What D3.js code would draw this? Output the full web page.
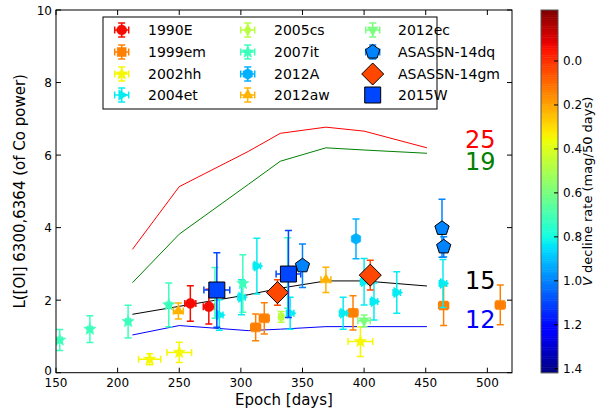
<!DOCTYPE html>
<html><head><meta charset="utf-8">
<script src="https://cdn.jsdelivr.net/npm/d3@7"></script>
<style>body{margin:0;background:#fff}svg{display:block;font-family:"DejaVu Sans",sans-serif}</style>
</head><body><svg id="c" width="606" height="414"></svg>
<script>
// ---- model curves ----
const modelEpochs = [212, 250, 306, 332, 369, 400, 451];
const model25 = [3.40, 5.13, 6.10, 6.60, 6.77, 6.66, 6.20];
const model19 = [2.48, 3.82, 5.19, 5.83, 6.20, 6.14, 6.05];
const model15 = [1.61, 1.83, 2.15, 2.33, 2.53, 2.53, 2.39];
const model12 = [1.04, 1.30, 1.16, 1.20, 1.27, 1.27, 1.27];
const modelLabels = ["25", "19", "15", "12"];
const modelLabelY = [6.45, 5.84, 2.55, 1.47];

// ---- observations: [epoch, L, yerr, xerr] ----
const sn1990E = [[259, 1.91, 0.49, 4.5], [274, 1.82, 0.48, 4.5]];
const sn1999em = [[312, 1.25, 0.37, 4], [319, 1.50, 0.43, 4], [391, 1.65, 0.47, 4], [464.5, 1.85, 0.55, 4], [510.5, 1.87, 0.55, 4]];
const sn2002hh = [[226, 0.37, 0.15, 9], [250, 0.56, 0.28, 10], [397, 0.86, 0.41, 10]];
const sn2004et = [[282.5, 1.59, 0.42, 3], [300.5, 2.08, 0.48, 3], [313, 2.94, 0.77, 3], [340, 1.64, 0.44, 3], [383, 1.64, 0.44, 3], [400, 2.51, 0.64, 3], [408, 1.96, 0.51, 3], [426.5, 2.21, 0.57, 3], [464, 2.46, 0.66, 3]];
const sn2005cs = [[332.7, 1.54, 0.15, 2]];
const sn2007it = [[153, 0.90, 0.29, 2], [177.5, 1.20, 0.37, 2], [208.5, 1.41, 0.45, 2], [241.5, 1.87, 0.60, 2], [279, 2.20, 0.70, 2], [301.6, 2.46, 0.79, 2], [338, 2.75, 0.97, 2]];
const sn2012A = [[393.4, 3.69, 0.55, 1]];
const sn2012aw = [[249.3, 1.70, 0.22, 4], [369, 2.56, 0.35, 4]];
const sn2012ec = [[400, 1.43, 0.16, 5]];
const asassn14dq = [[350, 2.95, 0.60, 3], [463.2, 3.98, 0.80, 3], [464.6, 3.47, 0.28, 3]];
const asassn14gm = [[329.7, 2.21, 0.35, 0], [405, 2.69, 0.41, 0]];
const sn2015W = [[280.5, 2.28, 1.03, 10.5], [338.6, 2.72, 1.20, 10]];

const snNames = ["1990E","1999em","2002hh","2004et","2005cs","2007it","2012A","2012aw","2012ec","ASASSN-14dq","ASASSN-14gm","2015W"];
const snDecline = [-0.065, 0.14, 0.35, 0.83, 0.47, 0.72, 0.925, 0.23, 0.595, 1.0, 0.04, 1.10];
const snMarkers = ["circle","square","star","triright","thindiamond","star","hexagon","triup","tridown","pentagon","diamond","bigsquare"];
const snData = [sn1990E, sn1999em, sn2002hh, sn2004et, sn2005cs, sn2007it, sn2012A, sn2012aw, sn2012ec, asassn14dq, asassn14gm, sn2015W];

const xTicks = [150, 200, 250, 300, 350, 400, 450, 500];
const yTicks = [0, 2, 4, 6, 8, 10];
const cbTicks = [0.0, 0.2, 0.4, 0.6, 0.8, 1.0, 1.2, 1.4];

// ---- jet colormap (matplotlib segments) ----
function seg(pts, t){ for(let i=1;i<pts.length;i++){ if(t<=pts[i][0]){ const a=pts[i-1],b=pts[i]; return a[1]+(b[1]-a[1])*(t-a[0])/(b[0]-a[0]); } } return pts[pts.length-1][1]; }
const R=[[0,0],[0.35,0],[0.66,1],[0.89,1],[1,0.5]], G=[[0,0],[0.125,0],[0.375,1],[0.64,1],[0.91,0],[1,0]], B=[[0,0.5],[0.11,1],[0.34,1],[0.65,0],[1,0]];
function jet(t){ t=Math.max(0,Math.min(1,t)); return d3.rgb(255*seg(R,t),255*seg(G,t),255*seg(B,t)).formatHex(); }
const cbMin = -0.232, cbMax = 1.418;
const colorOf = v => jet(1 - (v - cbMin)/(cbMax - cbMin));

const svg = d3.select("#c");
const L=56, Rg=512, T=10, Bt=372.7;
const x = d3.scaleLinear().domain([150,520]).range([L,Rg]);
const y = d3.scaleLinear().domain([0,10]).range([Bt,T]);

svg.append("clipPath").attr("id","pc").append("rect").attr("x",L).attr("y",T).attr("width",Rg-L).attr("height",Bt-T);
const plot = svg.append("g").attr("clip-path","url(#pc)");

// model lines
const modelColors = ["#ff0000","#008000","#000000","#0000ff"];
[model25, model19, model15, model12].forEach((m,i)=>{
  const line = d3.line().x((d,j)=>x(modelEpochs[j])).y(d=>y(d));
  plot.append("path").attr("d", line(m)).attr("fill","none").attr("stroke",modelColors[i]).attr("stroke-width",1);
});
modelLabels.forEach((t,i)=>{
  svg.append("text").attr("x",465).attr("y",y(modelLabelY[i])+9).attr("font-size",24).attr("fill",modelColors[i]).text(t);
});

// marker paths
function poly(n, r, rot){ const p=[]; for(let i=0;i<n;i++){ const a=(rot+i*360/n)*Math.PI/180; p.push([r*Math.sin(a), -r*Math.cos(a)]); } return "M"+p.map(q=>q.join(",")).join("L")+"Z"; }
function star(ro, ri){ const p=[]; for(let i=0;i<10;i++){ const r=i%2?ri:ro; const a=i*36*Math.PI/180; p.push([r*Math.sin(a), -r*Math.cos(a)]); } return "M"+p.map(q=>q.join(",")).join("L")+"Z"; }
function markerPath(m){
  switch(m){
    case "circle": return d3.symbol(d3.symbolCircle, 80)();
    case "square": return "M-4.5,-4.5h9v9h-9Z";
    case "star": return star(6.5, 2.8);
    case "triright": return poly(3, 6, 90);
    case "triup": return poly(3, 6, 0);
    case "tridown": return poly(3, 6, 180);
    case "thindiamond": return "M0,-6L3.5,0L0,6L-3.5,0Z";
    case "hexagon": return poly(6, 5.5, 0);
    case "pentagon": return poly(5, 7.5, 0);
    case "diamond": return "M0,-11L11,0L0,11L-11,0Z";
    case "bigsquare": return "M-8,-8h16v16h-16Z";
  }
}
const bigMarkers = {pentagon:1, diamond:1, bigsquare:1};

function drawPoint(g, px, py, col, m, xe, ye){
  const cap=3.5;
  if(ye!==null){
    const e = g.append("g").attr("stroke",col).attr("stroke-width",1.5);
    e.append("line").attr("x1",px).attr("x2",px).attr("y1",ye[0]).attr("y2",ye[1]);
    e.append("line").attr("x1",px-cap).attr("x2",px+cap).attr("y1",ye[0]).attr("y2",ye[0]);
    e.append("line").attr("x1",px-cap).attr("x2",px+cap).attr("y1",ye[1]).attr("y2",ye[1]);
    if(xe && xe[1]-xe[0]>0.5){
      e.append("line").attr("x1",xe[0]).attr("x2",xe[1]).attr("y1",py).attr("y2",py);
      e.append("line").attr("x1",xe[0]).attr("x2",xe[0]).attr("y1",py-cap).attr("y2",py+cap);
      e.append("line").attr("x1",xe[1]).attr("x2",xe[1]).attr("y1",py-cap).attr("y2",py+cap);
    }
  }
  g.append("path").attr("d",markerPath(m)).attr("transform",`translate(${px},${py})`)
   .attr("fill",col).attr("stroke",bigMarkers[m]?"#000":col).attr("stroke-width",bigMarkers[m]?1:0.5);
}

snData.forEach((arr,i)=>{
  const col = colorOf(snDecline[i]);
  arr.forEach(d=>{
    drawPoint(plot, x(d[0]), y(d[1]), col, snMarkers[i], [x(d[0]-d[3]), x(d[0]+d[3])], [y(d[1]+d[2]), y(d[1]-d[2])]);
  });
});

// axes frame & ticks
svg.append("rect").attr("x",L).attr("y",T).attr("width",Rg-L).attr("height",Bt-T).attr("fill","none").attr("stroke","#000").attr("stroke-width",1);
const tk = svg.append("g").attr("stroke","#000").attr("stroke-width",1);
xTicks.forEach(v=>{ tk.append("line").attr("x1",x(v)).attr("x2",x(v)).attr("y1",Bt).attr("y2",Bt-5); tk.append("line").attr("x1",x(v)).attr("x2",x(v)).attr("y1",T).attr("y2",T+5); });
yTicks.forEach(v=>{ tk.append("line").attr("x1",L).attr("x2",L+5).attr("y1",y(v)).attr("y2",y(v)); tk.append("line").attr("x1",Rg).attr("x2",Rg-5).attr("y1",y(v)).attr("y2",y(v)); });
xTicks.forEach(v=>svg.append("text").attr("x",x(v)).attr("y",Bt+14).attr("text-anchor","middle").attr("font-size",12).text(v));
yTicks.forEach(v=>svg.append("text").attr("x",L-4).attr("y",y(v)+(v===0?2:4.5)).attr("text-anchor","end").attr("font-size",12).text(v));
svg.append("text").attr("x",(L+Rg)/2).attr("y",405).attr("text-anchor","middle").attr("font-size",15).text("Epoch [days]");
svg.append("text").attr("transform",`translate(25,${(T+Bt)/2}) rotate(-90)`).attr("text-anchor","middle").attr("font-size",15).text("L([OI] 6300,6364 (of Co power)");

// legend
const lg = svg.append("g");
lg.append("rect").attr("x",103).attr("y",17).attr("width",334).attr("height",92).attr("fill","#fff").attr("stroke","#000").attr("stroke-width",1);
const colMX=[121.7,247.7,372.7], colTX=[148,274,398], rowY=[30,52,74,95];
snNames.forEach((n,i)=>{
  const c=Math.floor(i/4), r=i%4;
  const col=colorOf(snDecline[i]), m=snMarkers[i];
  const px=colMX[c], py=rowY[r];
  if(!bigMarkers[m] || m==="pentagon") drawPoint(lg, px, py, col, m, [px-7,px+7], [py-7,py+7]);
  else drawPoint(lg, px, py, col, m, null, null);
  lg.append("text").attr("x",colTX[c]).attr("y",py+5).attr("font-size",14).text(n);
});

// colorbar
const cx0=541, cx1=558;
const cy = d3.scaleLinear().domain([cbMin,cbMax]).range([T,Bt]);
const cg = svg.append("g");
const N=200;
for(let i=0;i<N;i++){ const v0=cbMin+(cbMax-cbMin)*i/N, v1=cbMin+(cbMax-cbMin)*(i+1)/N;
  cg.append("rect").attr("x",cx0).attr("y",cy(v0)).attr("width",cx1-cx0).attr("height",cy(v1)-cy(v0)+0.5).attr("fill",colorOf((v0+v1)/2)); }
cg.append("rect").attr("x",cx0).attr("y",T).attr("width",cx1-cx0).attr("height",Bt-T).attr("fill","none").attr("stroke","#555").attr("stroke-width",1);
cbTicks.forEach(v=>{
  cg.append("line").attr("x1",cx1-4).attr("x2",cx1).attr("y1",cy(v)).attr("y2",cy(v)).attr("stroke","#000");
  cg.append("text").attr("x",cx1+5).attr("y",cy(v)+4.5).attr("font-size",12).text(v.toFixed(1));
});
const cl = svg.append("text").attr("transform",`translate(592,${(T+Bt)/2}) rotate(-90)`).attr("text-anchor","middle").attr("font-size",13);
cl.append("tspan").attr("font-style","italic").text("V");
cl.append("tspan").text(" decline rate (mag/50 days)");
</script></body></html>
